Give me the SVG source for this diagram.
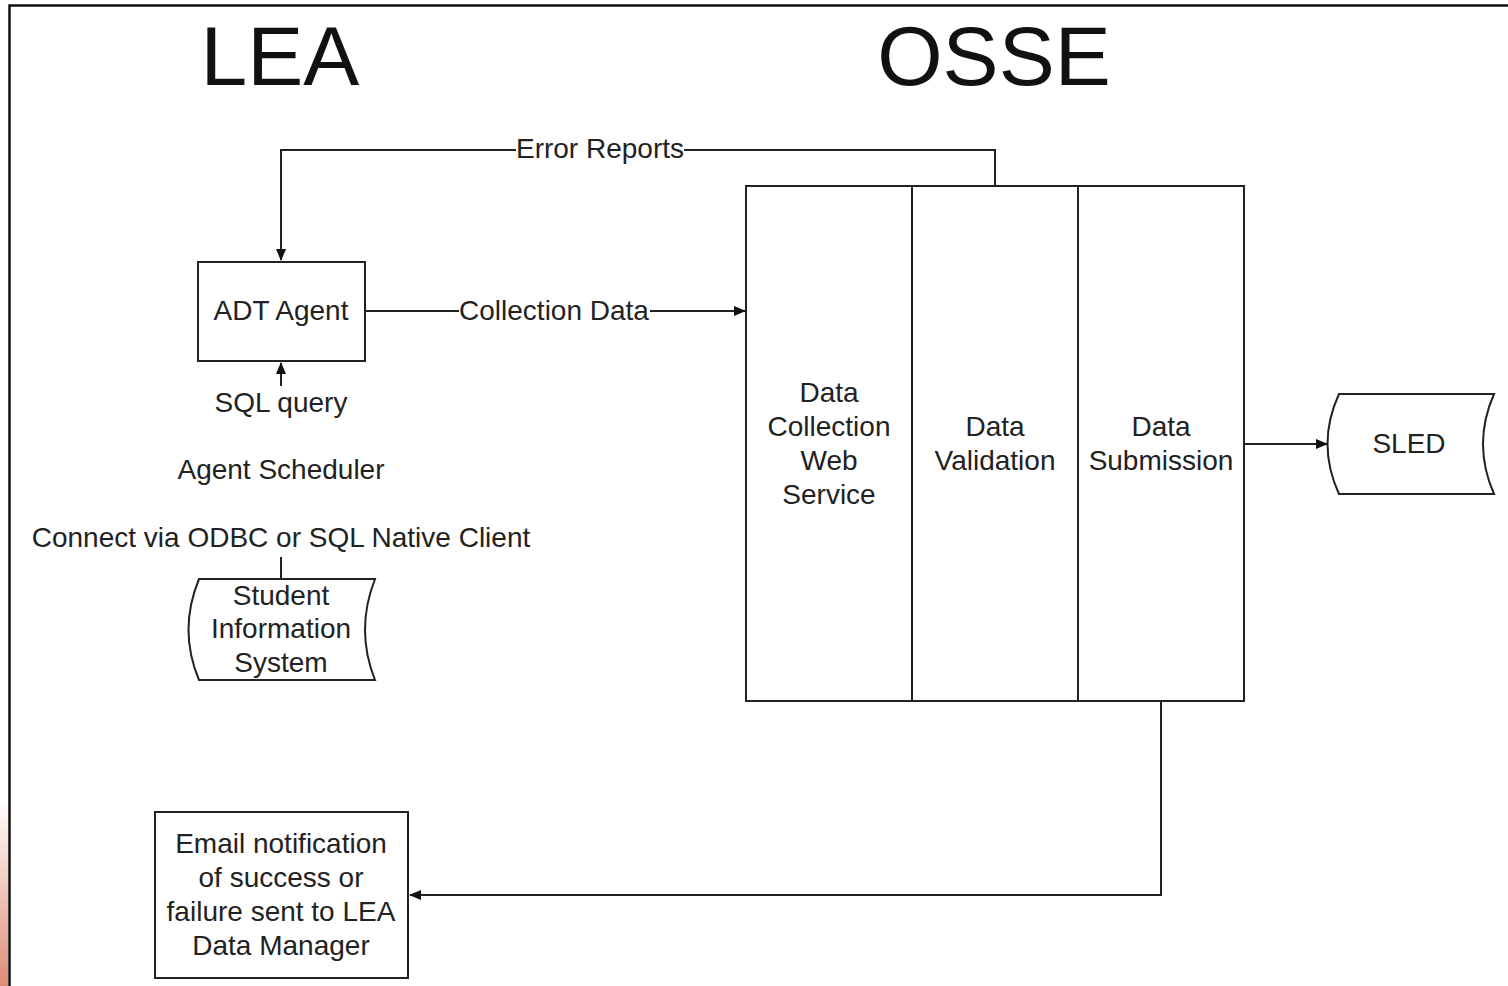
<svg xmlns="http://www.w3.org/2000/svg" width="1508" height="986" viewBox="0 0 1508 986">
<defs>
<linearGradient id="red" x1="0" y1="0" x2="0" y2="1">
<stop offset="0" stop-color="#ffffff"/>
<stop offset="1" stop-color="#df8c75"/>
</linearGradient>
<marker id="arr" markerWidth="12" markerHeight="10" refX="11" refY="5" orient="auto" markerUnits="userSpaceOnUse">
<path d="M0,0 L12,5 L0,10 Z" fill="#111"/>
</marker>
<style>
.t{font-family:"Liberation Sans",Arial,sans-serif;font-size:28px;fill:#222;text-anchor:middle;dominant-baseline:central}
.big{font-family:"Liberation Sans",Arial,sans-serif;font-size:84px;fill:#111;text-anchor:middle}
.s{fill:#fff;stroke:#222;stroke-width:2}
.c{fill:none;stroke:#222;stroke-width:2}
</style>
</defs>
<rect width="1508" height="986" fill="#fff"/>
<rect x="0" y="800" width="8" height="186" fill="url(#red)"/>
<path d="M9.5,986 V5.5 H1508" fill="none" stroke="#111" stroke-width="2.5"/>
<text class="big" x="280" y="85">LEA</text>
<text class="big" x="994" y="85">OSSE</text>
<g id="connectors">
<path class="c" d="M995,186 V150 H281 V260" marker-end="url(#arr)"/>
<rect x="516" y="134" width="168" height="30" fill="#fff"/>
<text class="t" x="600" y="148">Error Reports</text>
<path class="c" d="M365,311 H745" marker-end="url(#arr)"/>
<rect x="459" y="296" width="191" height="30" fill="#fff"/>
<text class="t" x="554" y="310">Collection Data</text>
<path class="c" d="M281,386 V363" marker-end="url(#arr)"/>
<path class="c" d="M281,557 V579"/>
<path class="c" d="M1244,444 H1327" marker-end="url(#arr)"/>
<path class="c" d="M1161,701 V895 H410" marker-end="url(#arr)"/>
</g>
<g id="adt">
<rect class="s" x="198" y="262" width="167" height="99"/>
<text class="t" x="281" y="310">ADT Agent</text>
</g>
<g id="sqlquery"><text class="t" x="281" y="402">SQL query</text></g>
<g id="scheduler"><text class="t" x="281" y="469">Agent Scheduler</text></g>
<g id="connect"><text class="t" x="281" y="537">Connect via ODBC or SQL Native Client</text></g>
<g id="sis">
<path class="s" d="M199,579 H375 Q355,630 375,680 H199 Q178,630 199,579 Z"/>
<text class="t" x="281" y="595">Student</text>
<text class="t" x="281" y="628">Information</text>
<text class="t" x="281" y="662">System</text>
</g>
<g id="osse">
<rect class="s" x="746" y="186" width="498" height="515"/>
<path class="c" d="M912,186 V701 M1078,186 V701"/>
<text class="t" x="829" y="392">Data</text>
<text class="t" x="829" y="426">Collection</text>
<text class="t" x="829" y="460">Web</text>
<text class="t" x="829" y="494">Service</text>
<text class="t" x="995" y="426">Data</text>
<text class="t" x="995" y="460">Validation</text>
<text class="t" x="1161" y="426">Data</text>
<text class="t" x="1161" y="460">Submission</text>
</g>
<g id="sled">
<path class="s" d="M1339,394 H1494 Q1472,444 1494,494 H1339 Q1316,444 1339,394 Z"/>
<text class="t" x="1409" y="443">SLED</text>
</g>
<g id="email">
<rect class="s" x="155" y="812" width="253" height="166"/>
<text class="t" x="281" y="843">Email notification</text>
<text class="t" x="281" y="877">of success or</text>
<text class="t" x="281" y="911">failure sent to LEA</text>
<text class="t" x="281" y="945">Data Manager</text>
</g>
</svg>
